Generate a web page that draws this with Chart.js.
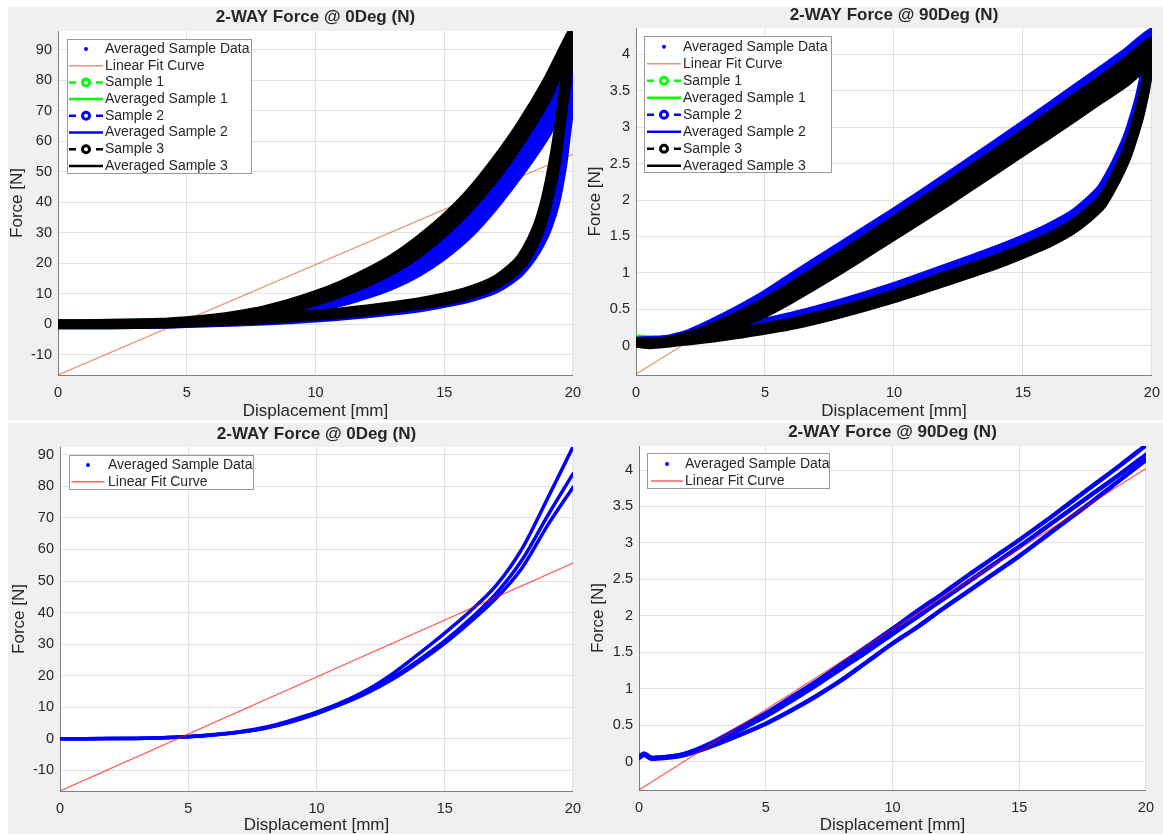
<!DOCTYPE html>
<html>
<head>
<meta charset="utf-8">
<script src="https://cdn.jsdelivr.net/npm/chart.js@4.4.1/dist/chart.umd.min.js"></script>
<style>
  html, body { margin: 0; padding: 0; background: #ffffff; }
  body { width: 1163px; height: 834px; position: relative; overflow: hidden; }
  .panel { position: absolute; background: #f0f0f0; }
  canvas { position: absolute; }
</style>
</head>
<body>
<div class="panel" style="left:8px;top:7px;width:572px;height:413px"></div>
<div class="panel" style="left:580px;top:7px;width:583px;height:413px"></div>
<div class="panel" style="left:8px;top:423px;width:572px;height:411px"></div>
<div class="panel" style="left:580px;top:423px;width:583px;height:411px"></div>
<canvas id="c0" width="582" height="413" style="left:8px;top:7px"></canvas>
<canvas id="c1" width="589" height="413" style="left:580px;top:7px"></canvas>
<canvas id="c2" width="582" height="411" style="left:8px;top:423px"></canvas>
<canvas id="c3" width="583" height="411" style="left:580px;top:423px"></canvas>
<script>
// ---------- axis ticks ----------
const xTicks = [0, 5, 10, 15, 20];
const yTicks0 = [-10, 0, 10, 20, 30, 40, 50, 60, 70, 80, 90];
const yTicks90 = [0, 0.5, 1, 1.5, 2, 2.5, 3, 3.5, 4];

// ---------- 0 deg: loading / unloading displacement grids (mm) ----------
const load0X = [0, 2, 4, 5, 6, 7, 8, 9, 10, 11, 12, 13, 14, 15, 16, 17, 18, 19, 20];
const unload0X = [20, 19.9, 19.8, 19.7, 19.6, 19.45, 19.3, 19.1, 18.9, 18.6, 18.2, 17.8, 17, 16, 15, 14, 12, 10, 8, 6, 4, 2, 0];

// Sample 1, 0 deg (force, N) per cycle
const s1Load0 = [
  [0, 0.05, 0.35, 0.8, 1.4, 2.4, 3.7, 5.5, 7.8, 10.6, 14, 18.2, 23.3, 29.5, 37.2, 46.8, 58, 71.5, 87],
  [0, 0.04, 0.3, 0.7, 1.2, 2.1, 3.3, 4.9, 7.0, 9.6, 12.8, 16.7, 21.5, 27.5, 35, 44.5, 55.5, 69, 85]
];
const s1Unload0 = [
  [87, 81, 75, 68, 61, 53, 46.5, 40, 34.5, 28.5, 22.5, 18.3, 13.3, 10, 7.9, 6.4, 4.2, 2.7, 1.6, 0.85, 0.35, 0.1, 0],
  [85, 79, 73, 66, 59, 51.5, 45, 38.5, 33.3, 27.6, 21.8, 17.7, 12.9, 9.7, 7.7, 6.2, 4.1, 2.6, 1.55, 0.8, 0.33, 0.09, 0]
];
// Sample 2, 0 deg
const s2Load0 = [
  [0, 0.05, 0.35, 0.75, 1.3, 2.2, 3.4, 5.0, 7.2, 9.8, 13.0, 16.8, 21.5, 27.5, 35, 44.5, 56, 69.5, 84],
  [0, 0.03, 0.28, 0.6, 1.05, 1.8, 2.8, 4.3, 6.2, 8.6, 11.4, 14.9, 19.3, 25.2, 32.6, 42, 53, 66, 82],
  [0, 0.02, 0.2, 0.45, 0.85, 1.45, 2.3, 3.6, 5.3, 7.4, 9.9, 13.0, 17.2, 22.8, 30, 39.5, 50.5, 63, 80]
];
const s2Unload0 = [
  [84, 78, 71, 64, 57, 49, 43, 37, 32.5, 27, 21.5, 17.5, 12.8, 9.6, 7.6, 6.1, 4.0, 2.5, 1.45, 0.75, 0.3, 0.08, 0],
  [82, 76, 69, 62, 55, 47.5, 41.5, 35.5, 31, 25.8, 20.6, 16.8, 12.2, 9.2, 7.3, 5.8, 3.8, 2.35, 1.35, 0.7, 0.28, 0.07, 0],
  [80, 74, 67, 60, 53, 45.5, 39.5, 34, 29.5, 24.6, 19.7, 16.1, 11.7, 8.8, 7.0, 5.5, 3.6, 2.2, 1.25, 0.65, 0.25, 0.06, 0]
];
// Sample 3, 0 deg
const s3Load0 = [
  [0, 0.1, 0.45, 1.0, 1.8, 3.0, 4.6, 6.8, 9.5, 12.8, 16.8, 21.5, 27.5, 34.5, 43, 53.5, 65.5, 79.5, 96],
  [0, 0.05, 0.35, 0.8, 1.5, 2.6, 4.0, 6.0, 8.5, 11.5, 15.1, 19.6, 25.3, 32.3, 40.8, 51, 63, 77, 95],
  [0, 0.03, 0.25, 0.6, 1.2, 2.1, 3.4, 5.2, 7.6, 10.4, 13.8, 18.0, 23.3, 30.3, 38.5, 48.5, 60.5, 74.5, 93.5]
];
const s3Unload0 = [
  [96, 91, 86, 80, 73.5, 64, 56, 47, 39.5, 31.5, 24.5, 19.8, 14.5, 11, 8.8, 7.2, 4.9, 3.2, 2, 1.1, 0.5, 0.15, 0],
  [95, 89.5, 84, 78, 71.5, 62, 53.5, 45, 38, 30, 23.2, 18.7, 13.7, 10.4, 8.3, 6.8, 4.6, 3.0, 1.85, 1.0, 0.45, 0.12, 0],
  [93.5, 88, 82.5, 76.5, 70, 60, 51, 43, 36.2, 28.5, 22, 17.7, 13, 9.8, 7.8, 6.4, 4.3, 2.8, 1.7, 0.9, 0.4, 0.1, 0]
];

// ---------- 90 deg: loading / unloading displacement grids (mm) ----------
const load90X = [0, 0.5, 1, 2, 3, 4, 5, 6, 8, 10, 12, 14, 16, 18, 19, 20];
const unload90X = [20, 19.9, 19.8, 19.7, 19.5, 19.2, 19, 18.5, 18, 17, 16, 15, 14, 12, 10, 8, 6, 4, 3, 2, 1, 0];

const s1Load90 = [
  [0.09, 0.05, 0.05, 0.12, 0.24, 0.39, 0.56, 0.77, 1.21, 1.66, 2.13, 2.6, 3.09, 3.58, 3.84, 4.12],
  [0.08, 0.04, 0.04, 0.10, 0.20, 0.34, 0.50, 0.70, 1.13, 1.58, 2.04, 2.51, 2.99, 3.47, 3.73, 4.02]
];
const s1Unload90 = [
  [4.12, 3.9, 3.7, 3.5, 3.19, 2.84, 2.64, 2.26, 1.97, 1.67, 1.47, 1.32, 1.18, 0.94, 0.7, 0.49, 0.31, 0.18, 0.13, 0.09, 0.07, 0.09],
  [4.02, 3.82, 3.63, 3.44, 3.14, 2.79, 2.59, 2.22, 1.93, 1.63, 1.43, 1.28, 1.14, 0.9, 0.67, 0.46, 0.29, 0.17, 0.12, 0.08, 0.06, 0.08]
];
const s2Load90 = [
  [0.06, 0.05, 0.07, 0.16, 0.32, 0.50, 0.70, 0.93, 1.38, 1.83, 2.30, 2.78, 3.27, 3.77, 4.02, 4.30],
  [0.05, 0.04, 0.06, 0.13, 0.27, 0.43, 0.62, 0.84, 1.29, 1.74, 2.21, 2.69, 3.18, 3.67, 3.93, 4.22]
];
const s2Unload90 = [
  [4.30, 4.09, 3.90, 3.70, 3.38, 3.02, 2.82, 2.44, 2.14, 1.82, 1.62, 1.46, 1.32, 1.06, 0.81, 0.59, 0.40, 0.25, 0.19, 0.13, 0.08, 0.06],
  [4.22, 4.0, 3.8, 3.6, 3.29, 2.94, 2.75, 2.37, 2.07, 1.76, 1.56, 1.41, 1.27, 1.01, 0.76, 0.55, 0.37, 0.23, 0.17, 0.11, 0.07, 0.05]
];
const s3Load90 = [
  [0.05, 0.03, 0.05, 0.13, 0.26, 0.42, 0.60, 0.81, 1.26, 1.72, 2.19, 2.66, 3.15, 3.64, 3.90, 4.18],
  [0.04, 0.02, 0.04, 0.10, 0.21, 0.35, 0.52, 0.72, 1.16, 1.61, 2.07, 2.54, 3.02, 3.50, 3.75, 4.05],
  [0.04, 0.02, 0.03, 0.08, 0.17, 0.30, 0.45, 0.64, 1.06, 1.51, 1.96, 2.43, 2.90, 3.38, 3.62, 3.92]
];
const s3Unload90 = [
  [4.18, 3.93, 3.72, 3.52, 3.21, 2.86, 2.66, 2.28, 1.99, 1.69, 1.49, 1.34, 1.2, 0.96, 0.71, 0.5, 0.32, 0.19, 0.13, 0.09, 0.05, 0.05],
  [4.05, 3.85, 3.65, 3.46, 3.16, 2.81, 2.61, 2.24, 1.95, 1.65, 1.45, 1.3, 1.16, 0.92, 0.68, 0.47, 0.3, 0.17, 0.12, 0.08, 0.05, 0.04],
  [3.92, 3.80, 3.62, 3.43, 3.12, 2.77, 2.57, 2.2, 1.91, 1.61, 1.41, 1.26, 1.12, 0.88, 0.65, 0.45, 0.28, 0.16, 0.11, 0.07, 0.04, 0.04]
];

// ---------- averaged loading curves ----------
const avgX0 = [0, 1, 2, 3, 4, 5, 6, 7, 8, 9, 10, 11, 12, 13, 14, 15, 16, 17, 18, 19, 20];
const avg0S1 = [0, 0, 0.02, 0.08, 0.25, 0.6, 1.2, 2.1, 3.4, 5.5, 8.2, 11.3, 15, 19.6, 25, 31, 38, 46, 56.5, 70.5, 84];
const avg0S2 = [0, 0, 0.02, 0.08, 0.25, 0.6, 1.15, 2.0, 3.3, 5.3, 7.9, 11, 14.6, 19, 24.3, 30.2, 37, 44.5, 54, 67.5, 79.7];
const avg0S3 = [0, 0, 0.02, 0.1, 0.3, 0.7, 1.3, 2.2, 3.6, 5.8, 8.4, 11.6, 15.6, 20.8, 27, 33.5, 40.5, 48.5, 60, 76, 92.5];

const avgX90 = [0, 0.2, 0.5, 1, 1.5, 2, 3, 4, 5, 6, 7, 8, 9, 10, 11, 12, 13, 14, 15, 16, 17, 18, 19, 20];
const avg90S1 = [0.07, 0.10, 0.05, 0.06, 0.08, 0.12, 0.27, 0.44, 0.62, 0.83, 1.05, 1.28, 1.51, 1.75, 1.99, 2.23, 2.47, 2.71, 2.95, 3.2, 3.45, 3.7, 3.95, 4.21];
const avg90S2 = [0.06, 0.11, 0.05, 0.06, 0.08, 0.13, 0.28, 0.47, 0.66, 0.88, 1.1, 1.34, 1.58, 1.82, 2.07, 2.31, 2.56, 2.80, 3.04, 3.29, 3.55, 3.81, 4.07, 4.34];
const avg90S3 = [0.05, 0.09, 0.04, 0.05, 0.07, 0.11, 0.23, 0.37, 0.52, 0.70, 0.90, 1.12, 1.37, 1.62, 1.85, 2.10, 2.34, 2.58, 2.82, 3.08, 3.34, 3.60, 3.87, 4.14];

// ---------- linear fits ----------
const fitX = [0, 20];
const fit0Y = [-16.6, 55.7];
const fit90Y = [-0.39, 4.02];

// ---------- styling ----------
const FONT = '"Liberation Sans", Arial, Helvetica, sans-serif';
const TEXT = '#262626';
const GRID = '#e2e2e2';
const AXIS = '#808080';
const GREEN = '#00ff00', BLUE = '#0000ff', BLACK = '#000000';
const FIT_ORANGE = 'rgba(217,83,25,0.6)';
const FIT_RED = 'rgba(255,0,0,0.62)';

Chart.defaults.font.family = FONT;

function pts(xs, ys) { return xs.map((x, i) => ({ x: x, y: ys[i] })); }
function cycles(loadX, unloadX, loads, unloads) {
  let out = [];
  loads.forEach((ly, k) => { out = out.concat(pts(loadX, ly), pts(unloadX, unloads[k]).slice(1)); });
  return out;
}
function lineSet(label, color, data, width, extra) {
  return Object.assign({
    label: label, data: data, showLine: true, borderColor: color, backgroundColor: color,
    borderWidth: width, pointRadius: 0, pointHoverRadius: 0, tension: 0,
    borderCapStyle: 'round', borderJoinStyle: 'round', fill: false
  }, extra || {});
}
const smooth = { cubicInterpolationMode: 'monotone' };
const loopStyle = { tension: 0.22 };

// legend glyphs in the MATLAB style
function drawGlyph(ctx, kind, color, x0, x1, y) {
  ctx.save();
  ctx.strokeStyle = color; ctx.fillStyle = color; ctx.setLineDash([]);
  const cx = (x0 + x1) / 2;
  if (kind === 'dot') {
    ctx.beginPath(); ctx.arc(cx, y, 2, 0, Math.PI * 2); ctx.fill();
  } else if (kind === 'thin') {
    ctx.lineWidth = 1.5; ctx.beginPath(); ctx.moveTo(x0, y); ctx.lineTo(x1, y); ctx.stroke();
  } else if (kind === 'solid') {
    ctx.lineWidth = 2.5; ctx.beginPath(); ctx.moveTo(x0, y); ctx.lineTo(x1, y); ctx.stroke();
  } else if (kind === 'dashmark') {
    ctx.lineWidth = 2.5; ctx.beginPath();
    ctx.moveTo(x0, y); ctx.lineTo(x0 + 7, y);
    ctx.moveTo(x1 - 7, y); ctx.lineTo(x1, y); ctx.stroke();
    ctx.lineWidth = 3; ctx.beginPath(); ctx.arc(cx, y, 3.5, 0, Math.PI * 2); ctx.stroke();
  }
  ctx.restore();
}

const decor = {
  id: 'decor',
  beforeDraw(chart) {
    const ca = chart.chartArea, ctx = chart.ctx;
    ctx.save(); ctx.fillStyle = '#ffffff';
    ctx.fillRect(ca.left, ca.top, ca.right - ca.left, ca.bottom - ca.top);
    ctx.restore();
  },
  afterDraw(chart, args, o) {
    const ctx = chart.ctx, ca = chart.chartArea;
    ctx.save();
    ctx.font = 'bold 17px ' + FONT; ctx.fillStyle = TEXT;
    ctx.textAlign = 'center'; ctx.textBaseline = 'middle';
    ctx.fillText(o.title, (ca.left + ca.right) / 2, o.titleY);
    const lg = o.legend;
    const items = chart.data.datasets.filter(d => d.legendGlyph);
    ctx.fillStyle = '#ffffff'; ctx.fillRect(lg.x, lg.y, lg.w, lg.h);
    ctx.strokeStyle = '#9a9a9a'; ctx.lineWidth = 1;
    ctx.strokeRect(lg.x + 0.5, lg.y + 0.5, lg.w - 1, lg.h - 1);
    ctx.font = '14px ' + FONT; ctx.textAlign = 'left'; ctx.textBaseline = 'middle';
    items.forEach((d, i) => {
      const cy = lg.row0 + i * lg.step;
      drawGlyph(ctx, d.legendGlyph, d.legendColor || d.borderColor, lg.gx0, lg.gx1, cy);
      ctx.fillStyle = TEXT; ctx.fillText(d.label, lg.tx, cy);
    });
    ctx.restore();
  }
};

function fmt(v) { return String(v); }

function makeChart(p) {
  p.datasets.forEach((d, i) => { d.order = -i; });
  return new Chart(document.getElementById(p.id), {
    type: 'scatter',
    data: { datasets: p.datasets },
    plugins: [decor],
    options: {
      responsive: false, animation: false, devicePixelRatio: 1, events: [],
      layout: { padding: { top: p.padTop, right: p.padRight, left: 0, bottom: 0 } },
      plugins: {
        legend: { display: false }, tooltip: { enabled: false },
        decor: { title: p.title, titleY: p.titleY, legend: p.legend }
      },
      scales: {
        x: {
          type: 'linear', min: 0, max: 20,
          afterBuildTicks: s => { s.ticks = xTicks.map(v => ({ value: v })); },
          afterFit: s => { s.height = p.axisH; },
          ticks: { padding: 9, color: TEXT, font: { size: 14.5 }, maxRotation: 0, autoSkip: false, callback: fmt },
          grid: { color: GRID, drawTicks: false },
          border: { color: AXIS, width: 1 },
          title: { display: true, text: 'Displacement [mm]', color: TEXT, font: { size: 17, lineHeight: 1 }, padding: { top: 0, bottom: 0 } }
        },
        y: {
          type: 'linear', min: p.yMin, max: p.yMax,
          afterBuildTicks: s => { s.ticks = p.yTicks.map(v => ({ value: v })); },
          afterFit: s => { s.width = p.axisW; },
          ticks: { padding: 6, color: TEXT, font: { size: 14.5 }, autoSkip: false, callback: fmt },
          grid: { color: GRID, drawTicks: false },
          border: { color: AXIS, width: 1 },
          title: { display: true, text: 'Force [N]', color: TEXT, font: { size: 17, lineHeight: 1 }, padding: { top: p.yTitlePad, bottom: 0 } }
        }
      }
    }
  });
}

// ---------- 0 deg, all samples ----------
makeChart({
  id: 'c0', title: '2-WAY Force @ 0Deg (N)', titleY: 10.5,
  yMin: -16.6, yMax: 96.1, yTicks: yTicks0,
  padTop: 24, padRight: 16, axisW: 50, axisH: 45, yTitlePad: 0.5,
  legend: { x: 59, y: 32, w: 185, h: 135, row0: 42, step: 16.7, gx0: 61, gx1: 95, tx: 97 },
  datasets: [
    lineSet('Averaged Sample Data', BLUE, pts(avgX0, avg0S3), 3, Object.assign({ legendGlyph: 'dot' }, smooth)),
    lineSet('Averaged Sample Data', BLUE, pts(avgX0, avg0S1), 3, smooth),
    lineSet('Averaged Sample Data', BLUE, pts(avgX0, avg0S2), 3, smooth),
    lineSet('Linear Fit Curve', FIT_ORANGE, pts(fitX, fit0Y), 1.3, { legendGlyph: 'thin', borderCapStyle: 'butt' }),
    lineSet('Sample 1', GREEN, cycles(load0X, unload0X, s1Load0, s1Unload0), 10, Object.assign({ legendGlyph: 'dashmark' }, loopStyle)),
    lineSet('Averaged Sample 1', GREEN, pts(avgX0, avg0S1), 2, Object.assign({ legendGlyph: 'solid' }, smooth)),
    lineSet('Sample 2', BLUE, cycles(load0X, unload0X, s2Load0, s2Unload0), 10, Object.assign({ legendGlyph: 'dashmark' }, loopStyle)),
    lineSet('Averaged Sample 2', BLUE, pts(avgX0, avg0S2), 2, Object.assign({ legendGlyph: 'solid' }, smooth)),
    lineSet('Sample 3', BLACK, cycles(load0X, unload0X, s3Load0, s3Unload0), 10, Object.assign({ legendGlyph: 'dashmark' }, loopStyle)),
    lineSet('Averaged Sample 3', BLACK, pts(avgX0, avg0S3), 2, Object.assign({ legendGlyph: 'solid' }, smooth))
  ]
});

// ---------- 90 deg, all samples ----------
makeChart({
  id: 'c1', title: '2-WAY Force @ 90Deg (N)', titleY: 8.5,
  yMin: -0.4, yMax: 4.36, yTicks: yTicks90,
  padTop: 21, padRight: 16, axisW: 56, axisH: 45, yTitlePad: 7.2,
  legend: { x: 64, y: 29, w: 188, h: 137, row0: 39.7, step: 17, gx0: 67, gx1: 101, tx: 103 },
  datasets: [
    lineSet('Averaged Sample Data', BLUE, pts(avgX90, avg90S2), 3, Object.assign({ legendGlyph: 'dot' }, smooth)),
    lineSet('Averaged Sample Data', BLUE, pts(avgX90, avg90S1), 3, smooth),
    lineSet('Averaged Sample Data', BLUE, pts(avgX90, avg90S3), 3, smooth),
    lineSet('Linear Fit Curve', FIT_ORANGE, pts(fitX, fit90Y), 1.3, { legendGlyph: 'thin', borderCapStyle: 'butt' }),
    lineSet('Sample 1', GREEN, cycles(load90X, unload90X, s1Load90, s1Unload90), 9.5, Object.assign({ legendGlyph: 'dashmark' }, loopStyle)),
    lineSet('Averaged Sample 1', GREEN, pts(avgX90, avg90S1), 2, Object.assign({ legendGlyph: 'solid' }, smooth)),
    lineSet('Sample 2', BLUE, cycles(load90X, unload90X, s2Load90, s2Unload90), 9.5, Object.assign({ legendGlyph: 'dashmark' }, loopStyle)),
    lineSet('Averaged Sample 2', BLUE, pts(avgX90, avg90S2), 2, Object.assign({ legendGlyph: 'solid' }, smooth)),
    lineSet('Sample 3', BLACK, cycles(load90X, unload90X, s3Load90, s3Unload90), 9.5, Object.assign({ legendGlyph: 'dashmark' }, loopStyle)),
    lineSet('Averaged Sample 3', BLACK, pts(avgX90, avg90S3), 2, Object.assign({ legendGlyph: 'solid' }, smooth))
  ]
});

// ---------- 0 deg, averaged data with fit ----------
makeChart({
  id: 'c2', title: '2-WAY Force @ 0Deg (N)', titleY: 11,
  yMin: -16.6, yMax: 92.5, yTicks: yTicks0,
  padTop: 24, padRight: 16, axisW: 52, axisH: 43, yTitlePad: 3.1,
  legend: { x: 61, y: 32, w: 185, h: 35, row0: 42, step: 16.7, gx0: 63.5, gx1: 96.5, tx: 100 },
  datasets: [
    lineSet('Averaged Sample Data', BLUE, pts(avgX0, avg0S3), 3.5, Object.assign({ legendGlyph: 'dot' }, smooth)),
    lineSet('Averaged Sample Data', BLUE, pts(avgX0, avg0S1), 3.5, smooth),
    lineSet('Averaged Sample Data', BLUE, pts(avgX0, avg0S2), 3.5, smooth),
    lineSet('Linear Fit Curve', FIT_RED, pts(fitX, fit0Y), 1.3, { legendGlyph: 'thin', borderCapStyle: 'butt' })
  ]
});

// ---------- 90 deg, averaged data with fit ----------
makeChart({
  id: 'c3', title: '2-WAY Force @ 90Deg (N)', titleY: 9,
  yMin: -0.39, yMax: 4.33, yTicks: yTicks90,
  padTop: 23, padRight: 16, axisW: 59, axisH: 44, yTitlePad: 10.2,
  legend: { x: 67, y: 30, w: 183, h: 36, row0: 41, step: 17, gx0: 71, gx1: 103, tx: 105 },
  datasets: [
    lineSet('Averaged Sample Data', BLUE, pts(avgX90, avg90S2), 4.5, Object.assign({ legendGlyph: 'dot' }, smooth)),
    lineSet('Averaged Sample Data', BLUE, pts(avgX90, avg90S1), 4.5, smooth),
    lineSet('Averaged Sample Data', BLUE, pts(avgX90, avg90S3), 4.5, smooth),
    lineSet('Linear Fit Curve', FIT_RED, pts(fitX, fit90Y), 1.3, { legendGlyph: 'thin', borderCapStyle: 'butt' })
  ]
});
</script>
</body>
</html>
